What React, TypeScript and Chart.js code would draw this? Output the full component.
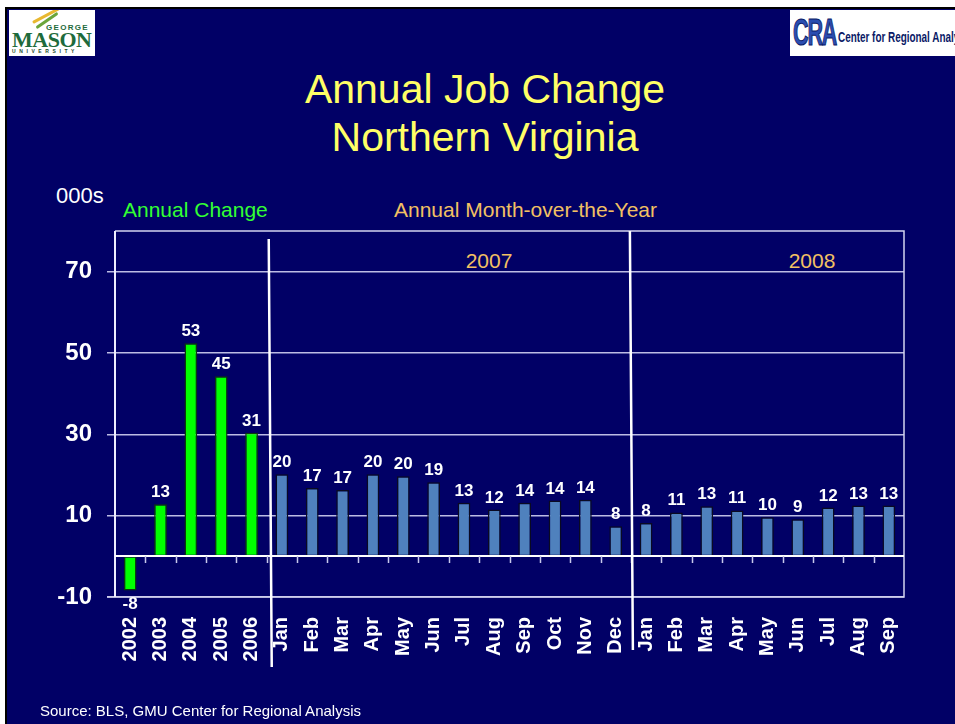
import React, { useEffect, useRef } from "react";
import { Chart, registerables } from "chart.js";

Chart.register(...registerables);

// ---- data ----
const yearCategories = ["2002", "2003", "2004", "2005", "2006"];
const months2007 = ["Jan", "Feb", "Mar", "Apr", "May", "Jun", "Jul", "Aug", "Sep", "Oct", "Nov", "Dec"];
const months2008 = ["Jan", "Feb", "Mar", "Apr", "May", "Jun", "Jul", "Aug", "Sep"];

const annualValues = [-8.4, 12.8, 52.4, 44.3, 30.4];
const values2007 = [20.2, 16.8, 16.3, 20.2, 19.7, 18.2, 13.2, 11.5, 13.2, 13.7, 13.9, 7.4];
const values2008 = [8.2, 10.8, 12.3, 11.3, 9.6, 9.1, 12.0, 12.5, 12.5];

const annualLabels = ["-8", "13", "53", "45", "31"];
const labels2007 = ["20", "17", "17", "20", "20", "19", "13", "12", "14", "14", "14", "8"];
const labels2008 = ["8", "11", "13", "11", "10", "9", "12", "13", "13"];

const yTickValues = [-10, 10, 30, 50, 70];
const yMin = -10;
const yMax = 80;

const categories = [...yearCategories, ...months2007, ...months2008];
const values = [...annualValues, ...values2007, ...values2008];
const valueLabels = [...annualLabels, ...labels2007, ...labels2008];

const FONT = "'Liberation Sans', Arial, Helvetica, sans-serif";
const NAVY = "#010066";
const GRID = "#BCBCE4";

const overlayPlugin = {
  id: "overlay",
  afterDraw(chart: any) {
    const { ctx, chartArea: a, scales } = chart;
    const y = scales.y;
    const n = categories.length;
    const w = (a.right - a.left) / n;
    ctx.save();
    // frame
    ctx.lineWidth = 1.5;
    ctx.strokeStyle = "#D4D4F0";
    ctx.beginPath();
    ctx.moveTo(a.left, a.top);
    ctx.lineTo(a.right, a.top);
    ctx.lineTo(a.right, a.bottom);
    ctx.lineTo(a.left - 8, a.bottom);
    ctx.stroke();
    ctx.strokeStyle = "#EEEEFF";
    ctx.lineWidth = 2;
    ctx.beginPath();
    ctx.moveTo(a.left, a.top);
    ctx.lineTo(a.left, a.bottom);
    ctx.stroke();
    // zero line
    const y0 = Math.round(y.getPixelForValue(0));
    ctx.strokeStyle = "#FFFFFF";
    ctx.lineWidth = 2;
    ctx.beginPath();
    ctx.moveTo(a.left, y0);
    ctx.lineTo(a.right, y0);
    ctx.stroke();
    ctx.strokeStyle = "#C8C8EC";
    ctx.lineWidth = 1.5;
    ctx.beginPath();
    for (let i = 1; i < n; i++) {
      const bx = Math.round(a.left + i * w) + 0.5;
      ctx.moveTo(bx, y0);
      ctx.lineTo(bx, y0 + 7);
    }
    ctx.stroke();
    // separators
    ctx.strokeStyle = "#FFFFFF";
    ctx.lineWidth = 2.5;
    const s1 = a.left + yearCategories.length * w;
    const s2 = a.left + (yearCategories.length + months2007.length) * w;
    ctx.beginPath();
    ctx.moveTo(s1 + 2, a.top + 8);
    ctx.lineTo(s1 + 5, a.bottom + 70);
    ctx.moveTo(s2 - 1, a.top);
    ctx.lineTo(s2 + 2, a.bottom + 53);
    ctx.stroke();
    // value labels
    ctx.fillStyle = "#FFFFFF";
    ctx.font = `bold 17px ${FONT}`;
    ctx.textAlign = "center";
    const meta = chart.getDatasetMeta(0);
    meta.data.forEach((bar: any, i: number) => {
      if (values[i] >= 0) {
        ctx.textBaseline = "alphabetic";
        ctx.fillText(valueLabels[i], bar.x, bar.y - 7);
      } else {
        ctx.textBaseline = "top";
        ctx.fillText(valueLabels[i], bar.x, bar.y + 5);
      }
    });
    ctx.restore();
  },
};

function ChartCanvas() {
  const ref = useRef<HTMLCanvasElement | null>(null);
  useEffect(() => {
    if (!ref.current) return;
    const chart = new Chart(ref.current, {
      type: "bar",
      data: {
        labels: categories,
        datasets: [
          {
            data: values,
            backgroundColor: values.map((_, i) => (i < yearCategories.length ? "#00FF00" : "#4F81BD")),
            borderColor: values.map((_, i) => (i < yearCategories.length ? "#0B3A0B" : "#0A0A22")),
            borderWidth: 1.5,
            borderSkipped: false,
            barPercentage: 0.42,
            categoryPercentage: 1,
          },
        ],
      },
      options: {
        responsive: false,
        animation: false,
        devicePixelRatio: 1,
        layout: { padding: { left: 35, right: 51, top: 231, bottom: 0 } },
        plugins: { legend: { display: false }, tooltip: { enabled: false }, title: { display: false } },
        scales: {
          x: {
            grid: { display: false, drawTicks: false },
            border: { display: false },
            ticks: {
              autoSkip: false,
              maxRotation: 90,
              minRotation: 90,
              padding: 20,
              color: "#FFFFFF",
              font: { family: FONT, size: 20, weight: "bold" },
            },
            afterFit: (s: any) => {
              s.height = 127;
            },
          },
          y: {
            min: yMin,
            max: yMax,
            afterBuildTicks: (s: any) => {
              s.ticks = yTickValues.map((v) => ({ value: v }));
            },
            afterFit: (s: any) => {
              s.width = 80;
            },
            grid: { color: GRID, lineWidth: 1.5, tickLength: 8, drawOnChartArea: true },
            border: { display: false },
            ticks: {
              padding: 15,
              color: "#FFFFFF",
              font: { family: FONT, size: 24, weight: "bold" },
            },
          },
        },
      },
      plugins: [overlayPlugin],
    });
    return () => chart.destroy();
  }, []);
  return (
    <canvas
      ref={ref}
      width={955}
      height={724}
      style={{ position: "absolute", left: 0, top: 0, width: 955, height: 724 }}
    />
  );
}

const abs = (left: number, top: number, extra: any = {}) => ({
  position: "absolute" as const,
  left,
  top,
  whiteSpace: "nowrap" as const,
  fontFamily: FONT,
  lineHeight: 1,
  ...extra,
});

export default function App() {
  return (
    <div style={{ position: "fixed", left: 0, top: 0, width: 955, height: 724, background: "#FFFFFF", overflow: "hidden" }}>
      <div
        style={{
          position: "absolute",
          left: 5,
          top: 7,
          right: 0,
          bottom: 0,
          background: NAVY,
          borderLeft: "2px solid #000",
          borderTop: "2px solid #000",
        }}
      />
      {/* GMU logo */}
      <div style={{ position: "absolute", left: 9, top: 10, width: 86, height: 46, background: "#FFFFFF", overflow: "hidden" }}>
        <div style={{ position: "absolute", left: 22, top: 4, width: 30, height: 3, background: "#E8B830", transform: "rotate(-28deg)", borderRadius: 2 }} />
        <div style={{ position: "absolute", left: 25, top: 9, width: 26, height: 3, background: "#6BA53A", transform: "rotate(-35deg)", borderRadius: 2 }} />
        <div style={abs(37, 14, { fontSize: 8, fontWeight: "bold", color: "#1E6B3C", letterSpacing: 1.3 })}>GEORGE</div>
        <div style={abs(3, 19, { fontSize: 22, fontWeight: "bold", color: "#1E6B3C", fontFamily: "'Liberation Serif', 'DejaVu Serif', serif", letterSpacing: -0.5 })}>MASON</div>
        <div style={abs(3, 39, { fontSize: 5, fontWeight: "bold", color: "#1E4B2C", letterSpacing: 3.6 })}>UNIVERSITY</div>
      </div>
      {/* CRA logo */}
      <div style={{ position: "absolute", left: 790, top: 10, width: 165, height: 46, background: "#FFFFFF", overflow: "hidden" }}>
        <div style={abs(3, 5, { fontSize: 36, fontWeight: "bold", color: "#2A4DB0", transform: "scaleX(0.6)", transformOrigin: "left top", letterSpacing: -2, WebkitTextStroke: "1px #0A1A66" })}>CRA</div>
        <div style={abs(48, 19, { fontSize: 15, fontWeight: "bold", color: "#0A1A66", transform: "scaleX(0.66)", transformOrigin: "left top" })}>Center for Regional Analysis</div>
      </div>
      {/* Title */}
      <div style={{ position: "absolute", left: 185, top: 65, width: 600, textAlign: "center", fontFamily: FONT, fontSize: 41, lineHeight: "48px", color: "#FFFF66" }}>
        Annual Job Change
        <br />
        Northern Virginia
      </div>
      <div style={abs(56, 185, { fontSize: 22, color: "#FFFFFF" })}>000s</div>
      <div style={abs(123, 199, { fontSize: 21, color: "#33FF33" })}>Annual Change</div>
      <div style={abs(394, 199, { fontSize: 21, color: "#F2C063" })}>Annual Month-over-the-Year</div>
      <div style={abs(439, 250, { fontSize: 21, color: "#F2C063", width: 100, textAlign: "center" })}>2007</div>
      <div style={abs(762, 250, { fontSize: 21, color: "#F2C063", width: 100, textAlign: "center" })}>2008</div>
      <ChartCanvas />
      <div style={abs(40, 703, { fontSize: 15, color: "#FFFFFF" })}>Source: BLS, GMU Center for Regional Analysis</div>
    </div>
  );
}
